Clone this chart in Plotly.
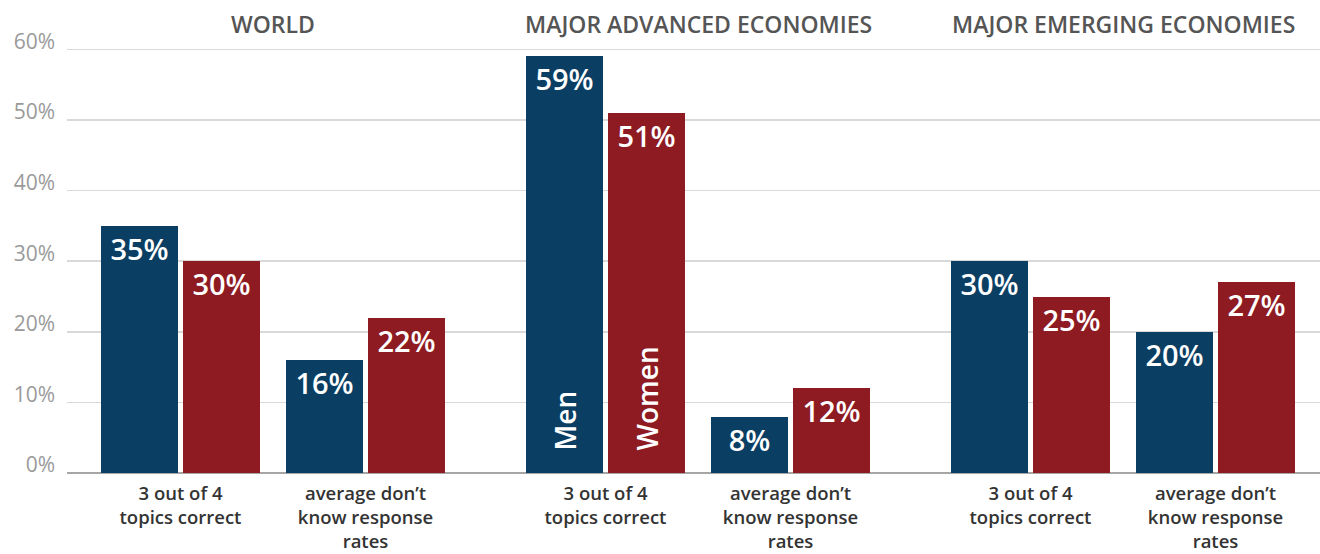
import plotly.graph_objects as go

# ---- data ----
groups = ["WORLD", "MAJOR ADVANCED ECONOMIES", "MAJOR EMERGING ECONOMIES"]
categories = ["3 out of 4<br>topics correct", "average don’t<br>know response<br>rates"]
men = [35, 16, 59, 8, 30, 20]
women = [30, 22, 51, 12, 25, 27]
series_names = ["Men", "Women"]
y_ticks = [0, 10, 20, 30, 40, 50, 60]
y_tick_labels = ["0%", "10%", "20%", "30%", "40%", "50%", "60%"]

# ---- layout constants ----
GROUP_STEP = 425
CAT_STEP = 185
BAR_W = 77
BLUE = "#0B3E63"
RED = "#8E1A22"
FONT = "Open Sans"

xpos = []
for g in range(len(groups)):
    for c in range(len(categories)):
        xpos.append(g * GROUP_STEP + c * CAT_STEP)
cat_labels = categories * len(groups)

fig = go.Figure()
offsets = [-79.5, 2.5]
for name, vals, col, off in zip(series_names, [men, women], [BLUE, RED], offsets):
    fig.add_trace(go.Bar(
        x=xpos, y=vals, name=name, width=BAR_W, offset=off,
        marker=dict(color=col, line=dict(width=0)),
        text=[f"{v}%" for v in vals], texttemplate="%{text}",
        textposition="inside", insidetextanchor="end",
        textangle=0, cliponaxis=False,
        textfont=dict(family=FONT, size=29, color="white", weight=600),
        hoverinfo="skip", showlegend=False,
    ))

# Men / Women vertical labels in the advanced-economies first category
adv_x = xpos[2]
for name, off in zip(series_names, offsets):
    fig.add_annotation(
        x=adv_x + off + BAR_W / 2, y=0, xref="x", yref="y",
        text=name, textangle=-90, showarrow=False,
        xanchor="center", yanchor="bottom", yshift=20,
        font=dict(family=FONT, size=28, color="white", weight=600),
    )

# group titles
for g, title in enumerate(groups):
    cx = g * GROUP_STEP + CAT_STEP / 2
    fig.add_annotation(
        x=cx, y=1, xref="x", yref="paper", yshift=24,
        text=title, showarrow=False, xanchor="center", yanchor="middle",
        font=dict(family=FONT, size=23, color="#555555", weight=600),
    )

fig.update_layout(
    width=1320, height=554,
    margin=dict(l=67, r=0, t=48, b=81, autoexpand=False),
    paper_bgcolor="white", plot_bgcolor="white",
    bargap=0,
    xaxis=dict(
        range=[-113.5, 1139.5], tickvals=xpos, ticktext=cat_labels,
        showgrid=False, zeroline=False, showline=False, ticks="",
        tickfont=dict(family=FONT, size=18.5, color="#333333", weight=600),
        ticklabelstandoff=7, fixedrange=True, automargin=False,
    ),
    yaxis=dict(
        range=[0, 60.2], tickvals=y_ticks, ticktext=y_tick_labels,
        showgrid=True, gridcolor="#D9D9D9", gridwidth=1.5,
        zeroline=True, zerolinecolor="#A6A6A6", zerolinewidth=1.5,
        showline=False, ticks="",
        tickfont=dict(family=FONT, size=21, color="#9A9A9A"),
        ticklabelstandoff=11, ticklabelshift=-8, fixedrange=True,
        automargin=False,
    ),
    font=dict(family=FONT),
)

fig.write_html(
    "out.html",
    config={"displayModeBar": False, "staticPlot": True},
    post_script="document.body.style.margin='0';document.body.style.padding='0';",
)
